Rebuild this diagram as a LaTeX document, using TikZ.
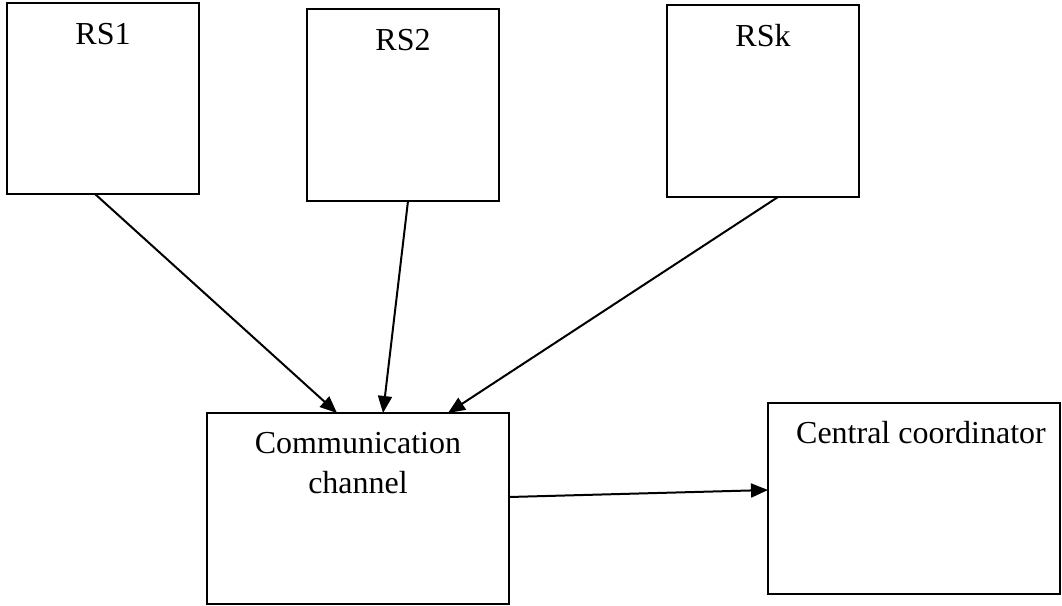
\documentclass[tikz,border=0pt]{standalone}
\usepackage{fontspec}
\setmainfont{Liberation Serif}
\usetikzlibrary{arrows.meta}
\begin{document}
\begin{tikzpicture}[x=1pt,y=-1pt,
  box/.style={draw=black,line width=2pt,inner sep=0pt,outer sep=0pt,anchor=north west},
  lbl/.style={font=\fontsize{32}{40}\selectfont,anchor=base,inner sep=0pt},
  arr/.style={line width=2pt,-{Triangle[length=17pt,width=14pt]}}]
\useasboundingbox (0,0) rectangle (1062,605);
\node[box,minimum width=192pt,minimum height=191pt] (rs1) at (7,3) {};
\node[box,minimum width=192pt,minimum height=192pt] (rs2) at (307,9) {};
\node[box,minimum width=192pt,minimum height=192pt] (rsk) at (667,5) {};
\node[box,minimum width=302pt,minimum height=191pt] (comm) at (207,413) {};
\node[box,minimum width=292pt,minimum height=191pt] (cc) at (768,403) {};
\node[lbl] (rs1t) at (103,44) {RS1};
\node[lbl] (rs2t) at (403,50) {RS2};
\node[lbl] (rskt) at (763,46) {RSk};
\node[lbl] (commt1) at (358,453) {Communication};
\node[lbl] (commt2) at (358,493) {channel};
\node[lbl] (cct) at (921,443) {Central coordinator};
\draw[arr] ([xshift=-8pt]rs1.south) -- ([xshift=-21pt]comm.north);
\draw[arr] ([xshift=5pt]rs2.south) -- ([xshift=25pt]comm.north);
\draw[arr] ([xshift=15pt]rsk.south) -- ([xshift=90pt]comm.north);
\draw[arr] ([yshift=11.5pt]comm.east) -- ([yshift=8.5pt]cc.west);
\end{tikzpicture}
\end{document}
